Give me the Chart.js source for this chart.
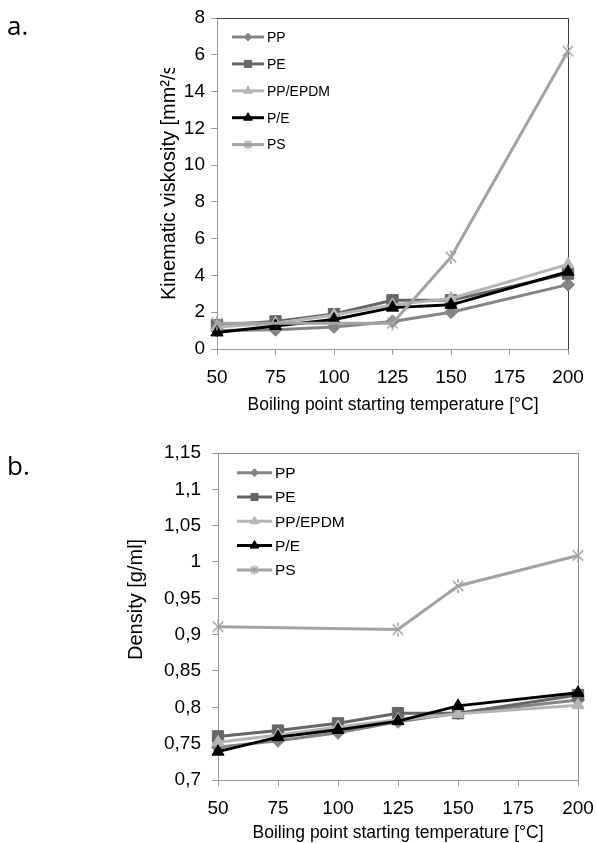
<!DOCTYPE html>
<html>
<head>
<meta charset="utf-8">
<script src="https://cdn.jsdelivr.net/npm/chart.js@4.4.0/dist/chart.umd.min.js"></script>
<style>
  body { margin: 0; background: #fff; }
  .panel { position: absolute; left: 0; }
</style>
</head>
<body>
<div class="panel" style="top:0"><canvas id="viscChart" width="597" height="420"></canvas></div>
<div class="panel" style="top:420px"><canvas id="densChart" width="597" height="423"></canvas></div>
<script>
// boiling point starting temperatures (x) shared by both panels
const temps = [50, 75, 100, 125, 150, 200];
const xTicks = [50, 75, 100, 125, 150, 175, 200];
const seriesNames = ['PP', 'PE', 'PP/EPDM', 'P/E', 'PS'];

// a. kinematic viscosity [mm2/s]
const viscPP    = [1.0, 1.05, 1.2, 1.5, 2.0, 3.5];
const viscPE    = [1.3, 1.5, 1.9, 2.65, 2.65, 4.1];
const viscPPEPDM = [1.2, 1.4, 1.85, 2.4, 2.75, 4.6];
const viscPE2   = [0.9, 1.25, 1.6, 2.25, 2.4, 4.2];
const viscPS    = [1.4, null, null, 1.4, 5.0, 16.2];
const viscTicks = [0, 2, 4, 6, 8, 10, 12, 14, 16, 18];
const viscTickLabels = ['0', '2', '4', '6', '8', '10', '12', '14', '6', '8'];

// b. density [g/ml]
const densPP    = [0.745, 0.754, 0.765, 0.780, 0.792, 0.810];
const densPE    = [0.760, 0.768, 0.778, 0.792, 0.792, 0.817];
const densPPEPDM = [0.752, 0.762, 0.773, 0.783, 0.791, 0.803];
const densPE2   = [0.739, 0.759, 0.769, 0.781, 0.802, 0.820];
const densPS    = [0.911, null, null, 0.907, 0.967, 1.009];
const densTicks = [0.7, 0.75, 0.8, 0.85, 0.9, 0.95, 1, 1.05, 1.1, 1.15];
const densTickLabels = ['0,7', '0,75', '0,8', '0,85', '0,9', '0,95', '1', '1,05', '1,1', '1,15'];

const FONT = "'Liberation Sans', Arial, sans-serif";
const colors = ['#848484', '#666666', '#b5b5b5', '#000000', '#a3a3a3'];

// excel-like star marker: an X with a vertical stroke
function starMarker(size, color) {
  const c = document.createElement('canvas');
  c.width = c.height = size;
  const g = c.getContext('2d');
  const m = size / 2, r = size / 2 - 1, d = r * 0.75;
  g.strokeStyle = color;
  g.lineWidth = 1.6;
  g.beginPath();
  g.moveTo(m - d, m - d); g.lineTo(m + d, m + d);
  g.moveTo(m + d, m - d); g.lineTo(m - d, m + d);
  g.moveTo(m, m - r); g.lineTo(m, m - r * 0.45);
  g.moveTo(m, m + r); g.lineTo(m, m + r * 0.45);
  g.stroke();
  return c;
}

const markers = [
  { style: 'rectRot', r: 6.5 },
  { style: 'rect', r: 8 },
  { style: 'triangle', r: 7 },
  { style: 'triangle', r: 7 },
  { style: starMarker(16, colors[4]), r: 7 }
];
const legendMarkers = [
  { style: 'rectRot', r: 4 },
  { style: 'rect', r: 5 },
  { style: 'triangle', r: 5 },
  { style: 'triangle', r: 5 },
  { style: starMarker(11, colors[4]), r: 5 }
];

function buildDatasets(values) {
  return values.map((vals, i) => ({
    label: seriesNames[i],
    data: vals.map((v, j) => ({ x: temps[j], y: v })),
    borderColor: colors[i],
    backgroundColor: colors[i],
    borderWidth: 3,
    pointStyle: markers[i].style,
    pointRadius: markers[i].r,
    pointBorderWidth: 1,
    spanGaps: true,
    tension: 0,
    clip: false,
    order: 5 - i
  }));
}

// frame, in-plot legend, axis titles and panel letter
const decor = {
  id: 'decor',
  beforeDatasetsDraw(chart, args, o) {
    const { ctx, chartArea: a } = chart;
    ctx.save();
    ctx.strokeStyle = o.frameColor;
    ctx.lineWidth = 1;
    ctx.beginPath();
    ctx.moveTo(a.left, Math.round(a.top) + 0.5);
    ctx.lineTo(Math.round(a.right) + 0.5, Math.round(a.top) + 0.5);
    ctx.lineTo(Math.round(a.right) + 0.5, a.bottom);
    ctx.stroke();
    ctx.restore();
  },
  afterDraw(chart, args, o) {
    const { ctx } = chart;
    const lg = o.legend;
    ctx.save();
    chart.data.datasets.forEach((ds, i) => {
      const y = lg.y + i * lg.gap;
      ctx.strokeStyle = ds.borderColor;
      ctx.fillStyle = ds.backgroundColor;
      ctx.lineWidth = 3;
      ctx.beginPath();
      ctx.moveTo(lg.x0, y);
      ctx.lineTo(lg.x1, y);
      ctx.stroke();
      ctx.lineWidth = 1;
      Chart.helpers.drawPoint(ctx, {
        pointStyle: legendMarkers[i].style, radius: legendMarkers[i].r,
        rotation: 0, borderWidth: 1
      }, (lg.x0 + lg.x1) / 2, y);
      ctx.fillStyle = '#000';
      ctx.font = lg.size + 'px ' + FONT;
      ctx.textAlign = 'left';
      ctx.textBaseline = 'middle';
      ctx.fillText(ds.label, lg.x1 + 3, y + 1);
    });
    ctx.restore();

    // y title, rotated, may be cut at the top
    const yt = o.yTitle;
    ctx.save();
    if (yt.clipTop) {
      ctx.beginPath();
      ctx.rect(0, yt.clipTop, chart.width, chart.height);
      ctx.clip();
    }
    ctx.translate(yt.x, yt.y);
    ctx.rotate(-Math.PI / 2);
    ctx.fillStyle = '#000';
    ctx.font = yt.size + 'px ' + FONT;
    ctx.textAlign = 'left';
    ctx.textBaseline = 'alphabetic';
    ctx.fillText(yt.text, 0, 0);
    ctx.restore();

    const xt = o.xTitle;
    ctx.save();
    ctx.fillStyle = '#000';
    ctx.font = xt.size + 'px ' + FONT;
    ctx.textAlign = 'center';
    ctx.textBaseline = 'middle';
    ctx.fillText(xt.text, xt.x, xt.y);
    ctx.font = "26px 'Open Sans', sans-serif";
    ctx.textAlign = 'left';
    ctx.textBaseline = 'alphabetic';
    ctx.fillText(o.tag.text, o.tag.x, o.tag.y);
    ctx.restore();
  }
};

function makeChart(id, values, y, box, decorOpts) {
  return new Chart(document.getElementById(id), {
    type: 'line',
    data: { datasets: buildDatasets(values) },
    plugins: [decor],
    options: {
      responsive: false,
      animation: false,
      layout: { autoPadding: false, padding: box.padding },
      plugins: {
        legend: { display: false },
        tooltip: { enabled: false },
        decor: decorOpts
      },
      scales: {
        x: {
          type: 'linear',
          min: xTicks[0],
          max: xTicks[xTicks.length - 1],
          afterBuildTicks: s => { s.ticks = xTicks.map(v => ({ value: v })); },
          ticks: {
            color: '#000', font: { family: FONT, size: 19 }, padding: 11,
            maxRotation: 0, autoSkip: false, callback: v => String(v)
          },
          grid: { drawOnChartArea: false, tickLength: 6, color: '#9a9a9a' },
          border: { color: '#9a9a9a', width: 1 },
          afterFit: s => {
            s.height = box.xHeight;
            s.paddingLeft = 0;
            s.paddingRight = 0;
          }
        },
        y: {
          type: 'linear',
          min: y.ticks[0],
          max: y.ticks[y.ticks.length - 1],
          afterBuildTicks: s => { s.ticks = y.ticks.map(v => ({ value: v })); },
          ticks: {
            color: '#000', font: { family: FONT, size: 19 }, padding: y.pad,
            autoSkip: false,
            callback: v => {
              const k = y.ticks.findIndex(t => Math.abs(t - v) < 1e-6);
              return k >= 0 ? y.labels[k] : '';
            }
          },
          grid: { drawOnChartArea: false, tickLength: 6, color: '#9a9a9a' },
          border: { color: '#9a9a9a', width: 1 },
          afterFit: s => {
            s.width = box.yWidth;
            s.paddingTop = 0;
            s.paddingBottom = 0;
          }
        }
      }
    }
  });
}

makeChart('viscChart',
  [viscPP, viscPE, viscPPEPDM, viscPE2, viscPS],
  { ticks: viscTicks, labels: viscTickLabels, pad: 6 },
  { padding: { left: 0, top: 18, right: 29, bottom: 0 }, yWidth: 217, xHeight: 71 },
  {
    frameColor: '#3c3c3c',
    legend: { x0: 232, x1: 264, y: 37, gap: 26.9, size: 14 },
    yTitle: { text: 'Kinematic viskosity [mm²/s]', x: 175, y: 300, size: 20, clipTop: 68 },
    xTitle: { text: 'Boiling point starting temperature [°C]', x: 393, y: 405, size: 17.5 },
    tag: { text: 'a.', x: 7, y: 35 }
  });

makeChart('densChart',
  [densPP, densPE, densPPEPDM, densPE2, densPS],
  { ticks: densTicks, labels: densTickLabels, pad: 11 },
  { padding: { left: 0, top: 33, right: 19, bottom: 0 }, yWidth: 218, xHeight: 63 },
  {
    frameColor: '#8c8c8c',
    legend: { x0: 237, x1: 272, y: 52.7, gap: 24.3, size: 15.5 },
    yTitle: { text: 'Density [g/ml]', x: 142, y: 240, size: 20 },
    xTitle: { text: 'Boiling point starting temperature [°C]', x: 398, y: 413, size: 17.5 },
    tag: { text: 'b.', x: 7, y: 55 }
  });
</script>
</body>
</html>
